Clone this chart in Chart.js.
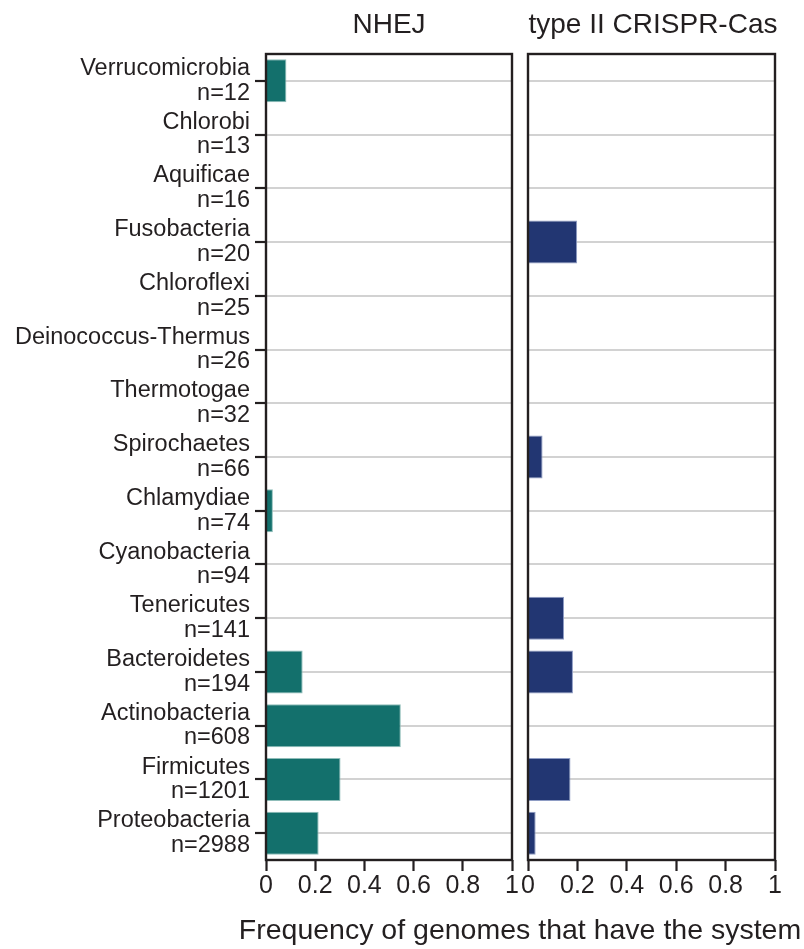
<!DOCTYPE html>
<html>
<head>
<meta charset="utf-8">
<script src="https://cdn.jsdelivr.net/npm/chart.js@4/dist/chart.umd.min.js"></script>
<style>
  html, body { margin: 0; padding: 0; background: #ffffff; }
  body { width: 804px; height: 949px; position: relative; overflow: hidden; font-family: "Liberation Sans", Arial, Helvetica, sans-serif; color: #231f20; }
  canvas { position: absolute; top: 0; }
  #cLeft { left: 0; }
  #cRight { left: 520px; }
  .ttl { position: absolute; white-space: nowrap; text-align: center; line-height: 30px; font-size: 28px; color: #231f20; }
  #xTitle { position: absolute; top: 912px; left: 0; width: 1040px; text-align: center; font-size: 28.5px; line-height: 34px; white-space: nowrap; color: #231f20; }
</style>
</head>
<body>
<canvas id="cLeft" width="520" height="949"></canvas>
<canvas id="cRight" width="284" height="949"></canvas>
<div class="ttl" id="tLeft" style="top:9px; left:266px; width:246px;">NHEJ</div>
<div class="ttl" id="tRight" style="top:9px; left:528px; width:250px;">type II CRISPR-Cas</div>
<div id="xTitle">Frequency of genomes that have the system</div>
<script>
// ---- data ----
const phyla = ["Verrucomicrobia", "Chlorobi", "Aquificae", "Fusobacteria", "Chloroflexi",
  "Deinococcus-Thermus", "Thermotogae", "Spirochaetes", "Chlamydiae", "Cyanobacteria",
  "Tenericutes", "Bacteroidetes", "Actinobacteria", "Firmicutes", "Proteobacteria"];
const genomeCounts = [12, 13, 16, 20, 25, 26, 32, 66, 74, 94, 141, 194, 608, 1201, 2988];
const nhejFreq   = [0.083, 0, 0, 0, 0, 0, 0, 0, 0.028, 0, 0, 0.149, 0.548, 0.303, 0.214];
const crisprFreq = [0, 0, 0, 0.199, 0, 0, 0, 0.059, 0, 0, 0.146, 0.182, 0, 0.172, 0.031];
const xTicks = [0, 0.2, 0.4, 0.6, 0.8, 1];
const xTickLabels = ["0", "0.2", "0.4", "0.6", "0.8", "1"];

const panelTitles = ["NHEJ", "type II CRISPR-Cas"];
const xAxisTitle = "Frequency of genomes that have the system";

// ---- helpers ----
const labels = phyla.map((p, i) => [p, "n=" + genomeCounts[i]]);
const TEXT = "#231f20";
const FONT = "'Liberation Sans', Arial, Helvetica, sans-serif";

const boxPlugin = {
  id: "box",
  afterDatasetsDraw(chart) {
    const a = chart.chartArea;
    const ctx = chart.ctx;
    ctx.save();
    ctx.strokeStyle = TEXT;
    ctx.lineWidth = 2.4;
    ctx.strokeRect(a.left, a.top, a.right - a.left, a.bottom - a.top);
    ctx.restore();
  }
};

function makeChart(id, values, fill, edge, showY, padding) {
  return new Chart(document.getElementById(id), {
    type: "bar",
    data: {
      labels: labels,
      datasets: [{
        data: values,
        backgroundColor: fill,
        borderColor: edge,
        borderWidth: 1,
        barPercentage: 0.8,
        categoryPercentage: 1.0
      }]
    },
    options: {
      indexAxis: "y",
      responsive: false,
      animation: false,
      devicePixelRatio: 1,
      layout: { padding: padding },
      plugins: { legend: { display: false }, tooltip: { enabled: false }, title: { display: false } },
      scales: {
        x: {
          type: "linear",
          min: 0, max: 1,
          afterBuildTicks(s) { s.ticks = xTicks.map(v => ({ value: v })); },
          afterFit(s) { s.height = 89; },
          border: { display: false },
          grid: { drawOnChartArea: false, drawTicks: true, tickLength: 11, tickColor: TEXT, tickWidth: 2.2 },
          ticks: {
            color: TEXT, font: { family: FONT, size: 25 }, padding: 0, maxRotation: 0,
            callback: (v) => xTickLabels[xTicks.indexOf(v)] ?? String(v)
          }
        },
        y: {
          type: "category",
          afterFit(s) { s.width = showY ? 266 : 0; },
          border: { display: false },
          grid: {
            offset: false,
            color: "#d2d2d2",
            lineWidth: 2,
            drawTicks: showY,
            tickLength: 11,
            tickColor: TEXT,
            tickWidth: 2.2
          },
          ticks: {
            display: showY,
            color: TEXT,
            font: { family: FONT, size: 23.5, lineHeight: 1.05 },
            padding: 5,
            autoSkip: false
          }
        }
      }
    },
    plugins: [boxPlugin]
  });
}

makeChart("cLeft", nhejFreq, "#13706c", "#8fbdb9", true, { left: 0, right: 8, top: 54, bottom: 0 });
makeChart("cRight", crisprFreq, "#223672", "#8e9cc4", false, { left: 8, right: 29, top: 54, bottom: 0 });
</script>
</body>
</html>
